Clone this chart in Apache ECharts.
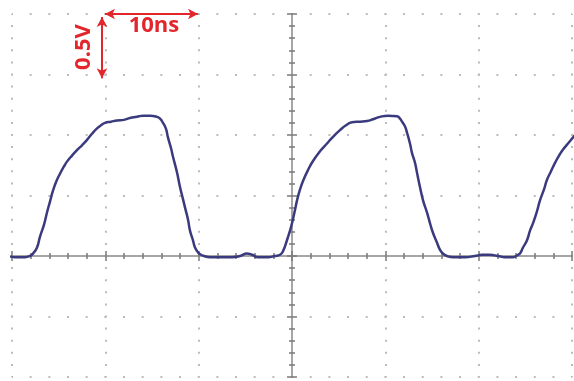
<!DOCTYPE html>
<html>
<head>
<meta charset="utf-8">
<title>Pulse waveform</title>
<script src="https://cdn.jsdelivr.net/npm/echarts@6/dist/echarts.min.js"></script>
<style>
  html, body { margin: 0; padding: 0; background: #fff; }
  #chart { width: 574px; height: 381px; }
</style>
</head>
<body>
<div id="chart"></div>
<script>
// sample time, ns (10 ns / div)
var timeNs = [
  -31.29, -30.43, -29.68, -28.61, -28.07, -27.75, -27.32, -27.00, -26.57, -26.25,
  -25.93, -25.61, -25.29, -24.86, -24.43, -24.11, -23.57, -23.04, -22.50, -21.96,
  -21.43, -20.89, -20.46, -20.04, -19.39, -18.75, -18.00, -17.36, -16.61, -15.96,
  -15.21, -14.46, -14.14, -13.82, -13.50, -13.29, -12.96, -12.75, -12.32, -12.00,
  -11.68, -11.46, -11.14, -10.93, -10.61, -10.39, -10.07, -9.86, -9.43, -8.79,
  -7.71, -6.43, -5.57, -4.82, -4.29, -3.64, -2.57, -1.82, -1.29, -0.96,
  -0.54, -0.21, 0.00, 0.32, 0.54, 0.86, 1.18, 1.71, 2.25, 3.00,
  3.75, 4.39, 5.14, 5.79, 6.43, 7.29, 8.04, 8.68, 9.43, 10.29,
  11.25, 11.57, 11.79, 12.11, 12.32, 12.64, 12.86, 13.18, 13.39, 13.71,
  14.04, 14.46, 14.79, 15.11, 15.54, 15.86, 16.18, 16.61, 17.25, 18.54,
  19.61, 20.36, 21.21, 22.07, 22.82, 23.68, 24.21, 24.43, 24.75, 25.18,
  25.50, 25.82, 26.25, 26.57, 27.00, 27.32, 27.75, 28.18, 28.61, 29.04,
  29.57, 30.11, 30.32
];
// probe voltage, V (0.5 V / div)
var voltage = [
  0.01, 0.00, -0.01, -0.01, 0.00, 0.02, 0.07, 0.16, 0.26, 0.36,
  0.45, 0.54, 0.61, 0.68, 0.74, 0.78, 0.83, 0.875, 0.915, 0.96,
  1.01, 1.055, 1.08, 1.10, 1.11, 1.12, 1.125, 1.14, 1.15, 1.16,
  1.16, 1.15, 1.135, 1.10, 1.05, 0.98, 0.89, 0.82, 0.69, 0.57,
  0.47, 0.40, 0.30, 0.21, 0.13, 0.07, 0.03, 0.015, 0.00, -0.01,
  -0.01, -0.01, 0.00, 0.02, 0.01, -0.01, -0.01, 0.00, 0.01, 0.04,
  0.13, 0.21, 0.27, 0.38, 0.46, 0.55, 0.62, 0.71, 0.785, 0.865,
  0.93, 0.985, 1.04, 1.08, 1.105, 1.11, 1.115, 1.13, 1.15, 1.16,
  1.155, 1.135, 1.11, 1.07, 1.02, 0.93, 0.85, 0.77, 0.69, 0.57,
  0.46, 0.36, 0.27, 0.19, 0.11, 0.05, 0.02, 0.00, -0.01, -0.01,
  0.00, 0.01, 0.01, 0.00, -0.01, -0.01, 0.01, 0.02, 0.07, 0.13,
  0.21, 0.27, 0.37, 0.46, 0.55, 0.63, 0.70, 0.77, 0.83, 0.88,
  0.93, 0.98, 1.00
];
// screen divisions
var xMin = -30, xMax = 30, xStep = 10;
var yMin = -1, yMax = 2, yStep = 0.5;
// scale markers drawn on screen
var scaleLabels = ['10ns', '0.5V'];

var red = '#e3262c';
var gridGray = '#bcbcbc';

var myChart = echarts.init(document.getElementById('chart'));

// one axis of the scope screen; the two copies put ticks on both sides of the centre lines
function timeAxis (pos, zeroIdx, withGrid) {
    return {
        type: 'value', min: xMin, max: xMax, interval: xStep, position: pos,
        axisLine: { onZero: true, onZeroAxisIndex: zeroIdx, lineStyle: { color: '#a6a6a6', width: 2 } },
        axisTick: { inside: true, length: 5, lineStyle: { color: '#7a7a7a', width: 1.5 } },
        minorTick: { show: true, splitNumber: 5, length: 3, lineStyle: { color: '#7a7a7a', width: 1.5 } },
        axisLabel: { show: false },
        splitLine: { show: withGrid, lineStyle: { color: gridGray, width: 2, type: [2, 10.1], dashOffset: 1 } }
    }
}
function voltAxis (pos, zeroIdx, withGrid) {
    return {
        type: 'value', min: yMin, max: yMax, interval: yStep, position: pos,
        axisLine: { onZero: true, onZeroAxisIndex: zeroIdx, lineStyle: { color: '#a6a6a6', width: 2 } },
        axisTick: { inside: true, length: 5, lineStyle: { color: '#7a7a7a', width: 1.5 } },
        minorTick: { show: true, splitNumber: 5, length: 3, lineStyle: { color: '#7a7a7a', width: 1.5 } },
        axisLabel: { show: false },
        splitLine: { show: withGrid, lineStyle: { color: gridGray, width: 2, type: [2, 16.67], dashOffset: 1 } }
    }
}

myChart.setOption({
    animation: false,
    backgroundColor: '#fff',
    grid: { left: 12, right: 2, top: 14, bottom: 4 },
    xAxis: [timeAxis('bottom', 0, true), timeAxis('top', 1, false)],
    yAxis: [voltAxis('left', 0, true), voltAxis('right', 1, false)],
    series: [{
        type: 'line',
        data: timeNs.map(function (t, i) { return [t, voltage[i]] }),
        symbol: 'none',
        clip: false,
        smooth: 0.5,
        lineStyle: { color: '#3a3a7e', width: 2.5 },
        markLine: {
            silent: true,
            symbol: ['arrow', 'arrow'],
            symbolSize: [8, 10],
            label: { show: false },
            lineStyle: { color: red, width: 2, type: 'solid' },
            data: [
                [{ coord: [-20.04, 2.0] }, { coord: [-10.07, 2.0] }],
                [{ coord: [-20.36, 1.975] }, { coord: [-20.36, 1.47] }]
            ]
        },
        markPoint: {
            silent: true,
            symbol: 'circle',
            symbolSize: 1,
            itemStyle: { color: 'rgba(0,0,0,0)' },
            label: {
                show: true, position: 'inside', formatter: '{b}',
                color: red, fontSize: 22, fontWeight: 'bold', fontFamily: 'Open Sans'
            },
            data: [
                { name: scaleLabels[0], coord: [-14.79, 1.90] },
                { name: scaleLabels[1], coord: [-22.29, 1.727], label: { rotate: 90 } }
            ]
        }
    }]
})
</script>
</body>
</html>
